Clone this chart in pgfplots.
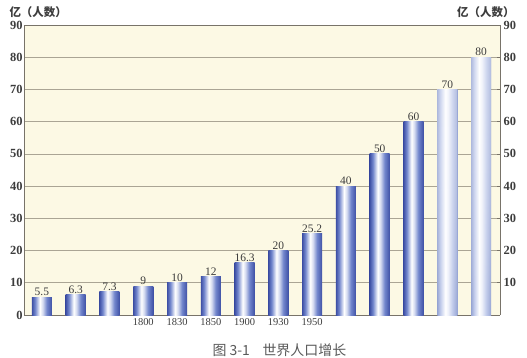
\documentclass[border=0pt]{standalone}
\usepackage{pgfplots}
\pgfplotsset{compat=1.18}
\usepackage{fontspec}
\setmainfont{Liberation Serif}
\newfontfamily\cjk{Noto Sans CJK SC}
\usetikzlibrary{fadings}
\definecolor{cream}{RGB}{252,249,228}
\definecolor{gridc}{RGB}{170,165,148}
\definecolor{axisc}{RGB}{120,115,105}
\definecolor{txt}{RGB}{60,60,60}
\definecolor{barblue}{RGB}{62,80,165}
\definecolor{barmid}{RGB}{115,135,205}
\definecolor{lblue}{RGB}{150,165,212}
\definecolor{lmid}{RGB}{195,205,236}
\pgfdeclarehorizontalshading{barshade}{100bp}{color(0bp)=(barblue); color(25bp)=(barblue); color(33bp)=(barmid); color(45bp)=(white); color(52bp)=(white!70!barmid); color(62bp)=(barmid); color(75bp)=(barblue); color(100bp)=(barblue)}
\pgfdeclarehorizontalshading{barlight}{100bp}{color(0bp)=(lblue); color(25bp)=(lblue); color(33bp)=(lmid); color(45bp)=(white); color(52bp)=(white!70!lmid); color(62bp)=(lmid); color(75bp)=(lblue); color(100bp)=(lblue)}
\pgfplotsset{
  darkbar/.style={ybar, bar shift=0pt, bar width=20bp, draw=none, shading=barshade},
  lightbar/.style={ybar, bar shift=0pt, bar width=20bp, draw=none, shading=barlight,
    postaction={fill=white, fill opacity=0.6, path fading=south}},
}
\begin{document}
\begin{tikzpicture}
\path[use as bounding box] (-24bp,-43bp) rectangle (503bp,315bp);
\begin{axis}[
  scale only axis, width=476bp, height=290bp,
  at={(0,0)}, anchor=south west,
  xmin=-0.53, xmax=13.56, ymin=0, ymax=90,
  ytick={0,10,...,90},
  xtick={0,...,13},
  xticklabels={,,,1800,1830,1850,1900,1930,1950,,,,,},
  x tick style={draw=none},
  y tick style={draw=none},
  ymajorgrids, grid style={gridc, line width=0.6bp},
  axis line style={axisc, line width=0.8bp},
  axis background/.style={fill=cream},
  tick label style={font=\fontsize{12.5}{13}\selectfont\bfseries, text=txt},
  yticklabel style={xshift=2bp},
  xticklabel style={font=\fontsize{10.5}{11}\selectfont, text=txt, yshift=0bp},
  /pgf/number format/assume math mode=true,
  axis x line*=bottom, axis y line*=left,
  nodes near coords,
  every node near coord/.append style={font=\fontsize{11.5}{12}\selectfont, text=txt, inner sep=1bp},
  clip=false,
]
\addplot[darkbar] coordinates {(0,5.5)};
\addplot[darkbar] coordinates {(1,6.3)};
\addplot[darkbar] coordinates {(2,7.3)};
\addplot[darkbar] coordinates {(3,9)};
\addplot[darkbar] coordinates {(4,10)};
\addplot[darkbar] coordinates {(5,12)};
\addplot[darkbar] coordinates {(6,16.3)};
\addplot[darkbar] coordinates {(7,20)};
\addplot[darkbar] coordinates {(8,25.2)};
\addplot[darkbar] coordinates {(9,40)};
\addplot[darkbar] coordinates {(10,50)};
\addplot[darkbar] coordinates {(11,60)};
\addplot[lightbar] coordinates {(12,70)};
\addplot[lightbar] coordinates {(13,80)};
\draw[axisc, line width=0.8bp] (rel axis cs:0,1) -- (rel axis cs:1,1);
\node[anchor=base west, font=\cjk\fontsize{11.5}{12}\selectfont\bfseries, text=txt] at ([xshift=-18bp, yshift=9bp]rel axis cs:0,1) {亿（人数）};
\node[anchor=base east, font=\cjk\fontsize{11.5}{12}\selectfont\bfseries, text=txt] at ([xshift=18bp, yshift=9bp]rel axis cs:1,1) {亿（人数）};
\node[anchor=base, font=\cjk\fontsize{14}{15}\selectfont, text=txt!85] at ([yshift=-40bp]axis cs:7.03,0) {图 3-1\hspace{0.9em}世界人口增长};
\end{axis}
\begin{axis}[
  scale only axis, width=476bp, height=290bp,
  at={(0,0)}, anchor=south west,
  xmin=-0.53, xmax=13.56, ymin=0, ymax=90,
  ytick={10,20,...,90},
  axis x line=none, axis y line*=right,
  axis line style={axisc, line width=0.8bp},
  y tick style={axisc, line width=0.6bp},
  major tick length=3bp,
  tick label style={font=\fontsize{12.5}{13}\selectfont\bfseries, text=txt},
  /pgf/number format/assume math mode=true,
]
\addplot[draw=none] coordinates {(0,0)};
\end{axis}
\end{tikzpicture}
\end{document}
